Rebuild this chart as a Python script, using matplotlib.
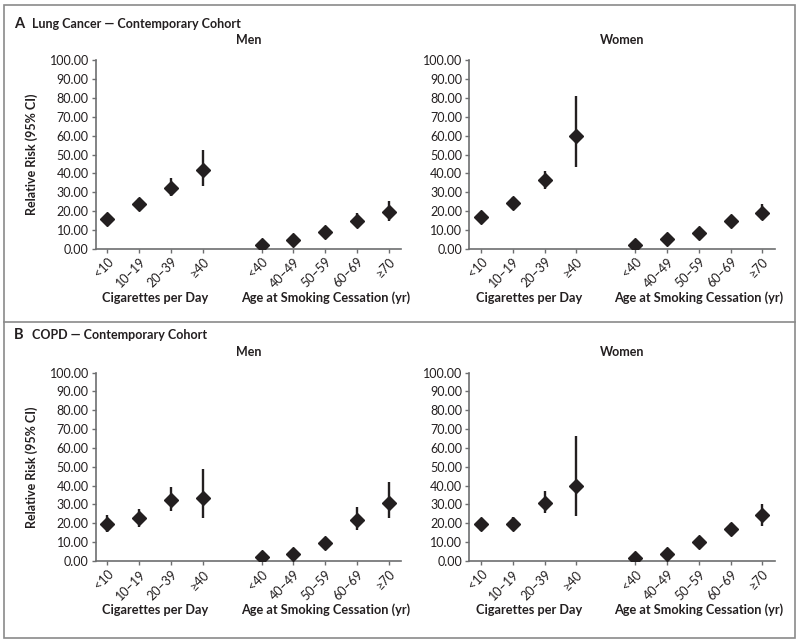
import numpy as np
import matplotlib.pyplot as plt
from matplotlib.patches import Rectangle
from matplotlib.lines import Line2D

plt.rcParams['font.family'] = ['Lato', 'DejaVu Sans']

cig_labels = ['<10', '10\u201319', '20\u201339', '\u226540']
age_labels = ['<40', '40\u201349', '50\u201359', '60\u201369', '\u226570']
tick_labels = cig_labels + age_labels

# relative risk, lower CI, upper CI (cigarette groups then cessation-age groups)
lung_men = [16.0, 23.8, 32.4, 42.0, 2.0, 4.6, 8.7, 14.9, 19.3]
lung_men_lo = [14.4, 20.4, 28.0, 33.3, 1.2, 3.8, 7.6, 12.0, 14.6]
lung_men_hi = [18.0, 26.8, 37.4, 52.4, 2.9, 5.6, 10.0, 18.8, 25.2]

lung_women = [16.7, 24.3, 36.3, 59.7, 1.8, 5.0, 8.5, 14.9, 18.8]
lung_women_lo = [15.4, 21.6, 31.9, 43.5, 1.1, 4.2, 7.5, 13.5, 15.0]
lung_women_hi = [18.1, 27.6, 41.4, 81.3, 2.6, 5.9, 9.6, 16.4, 23.7]

copd_men = [19.6, 22.6, 32.4, 33.6, 2.1, 3.7, 9.7, 21.8, 31.0]
copd_men_lo = [15.4, 18.2, 26.6, 22.8, 1.2, 2.8, 7.4, 16.5, 22.8]
copd_men_hi = [24.4, 27.4, 39.1, 48.9, 3.0, 4.8, 12.3, 28.7, 42.1]

copd_women = [19.5, 19.8, 30.6, 40.0, 1.6, 3.7, 10.1, 16.8, 24.4]
copd_women_lo = [16.1, 16.8, 25.7, 23.9, 0.9, 2.9, 9.0, 14.0, 18.8]
copd_women_hi = [22.3, 23.2, 37.2, 66.4, 2.4, 4.6, 11.3, 20.4, 30.4]

yticks = np.arange(0, 101, 10)

# x positions: two groups separated by a gap
xpos = np.concatenate([np.arange(4), np.arange(5) + 4.85])
xlo, xhi = -0.37, 9.24

ink = '#231f20'
axis_col = '#6d6e70'

fig = plt.figure(figsize=(8.0, 6.43), dpi=100)


def draw(ax, rr, lo, hi, title, ylabel):
    ax.vlines(xpos, lo, hi, color=ink, lw=1.7, zorder=2)
    ax.plot(xpos, rr, 'D', color=ink, ms=7, zorder=3)
    ax.set_xlim(xlo, xhi)
    ax.set_ylim(0, 100)
    ax.set_yticks(yticks)
    ax.set_yticklabels([f'{v:.2f}' for v in yticks], fontsize=9, color=ink)
    ax.set_xticks(xpos)
    ax.set_xticklabels(tick_labels, rotation=45, ha='right', rotation_mode='anchor',
                       fontsize=9, color=ink)
    for s in ['top', 'right']:
        ax.spines[s].set_visible(False)
    for s in ['left', 'bottom']:
        ax.spines[s].set_color(axis_col)
        ax.spines[s].set_linewidth(1.2)
    ax.tick_params(axis='both', direction='out', length=3, width=1, color=axis_col, pad=2)
    ax.set_title(title, fontsize=9, fontweight='bold', color=ink, pad=12)
    if ylabel:
        ax.set_ylabel('Relative Risk (95% CI)', fontsize=9, fontweight='bold',
                      color=ink, labelpad=8)
    # group labels below the tick labels, placed in figure coordinates
    pos = ax.get_position()
    span = pos.width / (xhi - xlo)
    yfig = pos.y0 - 49 / 643
    fig.text(pos.x0 + (1.5 - xlo) * span, yfig, 'Cigarettes per Day',
             ha='center', va='center', fontsize=9.2, fontweight='bold', color=ink)
    fig.text(pos.x0 + (6.85 - xlo) * span, yfig, 'Age at Smoking Cessation (yr)',
             ha='center', va='center', fontsize=9.2, fontweight='bold', color=ink)


w = 0.382
h = 0.293
ax1 = fig.add_axes([0.1196, 0.6132, w, h])
ax2 = fig.add_axes([0.5866, 0.6132, w, h])
ax3 = fig.add_axes([0.1196, 0.1275, w, h])
ax4 = fig.add_axes([0.5866, 0.1275, w, h])

draw(ax1, lung_men, lung_men_lo, lung_men_hi, 'Men', True)
draw(ax2, lung_women, lung_women_lo, lung_women_hi, 'Women', False)
draw(ax3, copd_men, copd_men_lo, copd_men_hi, 'Men', True)
draw(ax4, copd_women, copd_women_lo, copd_women_hi, 'Women', False)

# panel frames
fig.add_artist(Rectangle((4 / 800, 1 - 638 / 643), 791 / 800, 633 / 643, transform=fig.transFigure,
                         fill=False, edgecolor='#8a8a8a', lw=1.2))
fig.add_artist(Line2D([4 / 800, 795 / 800], [1 - 321.5 / 643] * 2, transform=fig.transFigure,
                      color='#8a8a8a', lw=1.2))

fig.text(14 / 800, 1 - 24 / 643, 'A', fontsize=10.5, fontweight='bold', color=ink, va='center')
fig.text(32 / 800, 1 - 24 / 643, 'Lung Cancer \u2014 Contemporary Cohort', fontsize=9,
         fontweight='bold', color=ink, va='center')
fig.text(14 / 800, 1 - 335 / 643, 'B', fontsize=10.5, fontweight='bold', color=ink, va='center')
fig.text(32 / 800, 1 - 335 / 643, 'COPD \u2014 Contemporary Cohort', fontsize=9,
         fontweight='bold', color=ink, va='center')

fig.savefig('out.png', dpi=100)
